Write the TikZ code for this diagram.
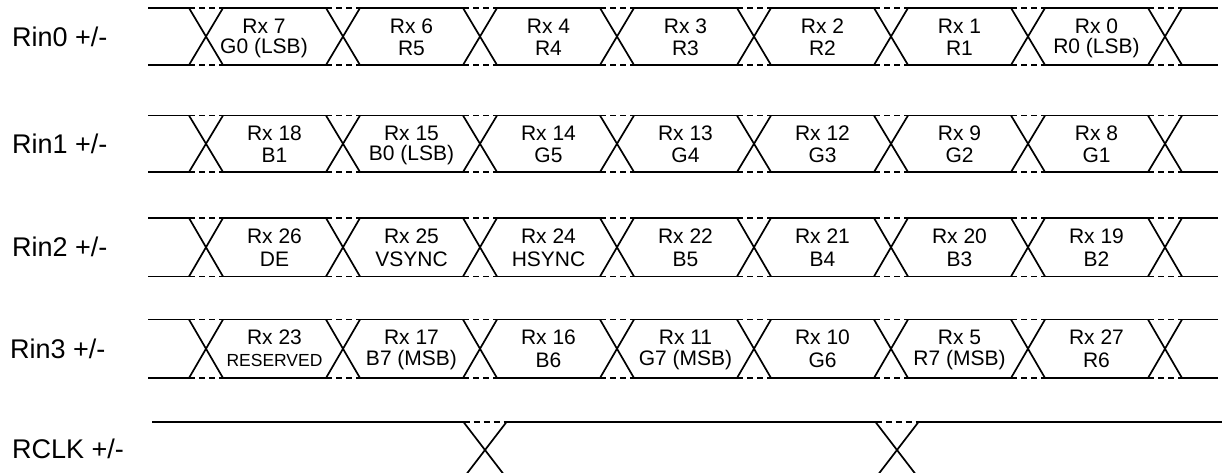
\documentclass[tikz,border=0pt]{standalone}
\usepackage{fontspec}
\setmainfont{Liberation Sans}
\begin{document}
\begin{tikzpicture}[x=1pt,y=-1pt,
  wave/.style={line width=1.7pt},
  gapline/.style={line width=1.7pt,dash pattern=on 6pt off 4pt},
  siglabel/.style={anchor=west,inner sep=0pt,font=\fontsize{27}{29}\selectfont},
  celltext/.style={align=center,inner sep=0pt,font=\fontsize{21}{22.5}\selectfont},
  smalltext/.style={inner sep=0pt,font=\fontsize{17.5}{18}\selectfont}]
\useasboundingbox (0,0) rectangle (1227,472);
\clip (0,0) rectangle (1227,472);
\def\hw{17}
% data rows: index/top/bottom
\foreach \r/\T/\B in {0/8/65, 1/115.5/172, 2/218/276.5, 3/319.5/378}{
  \draw[wave] (148,\T) -- (206-\hw,\T);
  \draw[wave] (148,\B) -- (206-\hw,\B);
  \foreach \k in {0,...,7}{
    \pgfmathsetmacro{\c}{206+137*\k}
    \pgfmathsetmacro{\n}{\k<7 ? 206+137*(\k+1)-\hw : 1218}
    \draw[gapline] (\c-\hw,\T) -- (\c+\hw,\T);
    \draw[gapline] (\c-\hw,\B) -- (\c+\hw,\B);
    \draw[wave] (\c-\hw,\T) -- (\c+\hw,\B);
    \draw[wave] (\c-\hw,\B) -- (\c+\hw,\T);
    \draw[wave] (\c+\hw,\T) -- (\n,\T);
    \draw[wave] (\c+\hw,\B) -- (\n,\B);
  }
}
% signal labels
\node[siglabel] (l0) at (12,36.5) {Rin0 +/-};
\node[siglabel] (l1) at (12,143.75) {Rin1 +/-};
\node[siglabel] (l2) at (12,247.25) {Rin2 +/-};
\node[siglabel] (l3) at (10,348.75) {Rin3 +/-};
\node[siglabel] (l4) at (12,449) {RCLK +/-};
% cell texts
\foreach \j/\a/\b in {0/Rx 7/G0 (LSB),1/Rx 6/R5,2/Rx 4/R4,3/Rx 3/R3,4/Rx 2/R2,5/Rx 1/R1,6/Rx 0/R0 (LSB)}{
  \pgfmathsetmacro{\xx}{\j==0 ? 264 : 274.5+137*\j}
  \node[celltext] (a0\j) at (\xx,26) {\a};
  \node[celltext] (b0\j) at (\xx,48.5) {\b};
}
\foreach \j/\a/\b in {0/Rx 18/B1,1/Rx 15/B0 (LSB),2/Rx 14/G5,3/Rx 13/G4,4/Rx 12/G3,5/Rx 9/G2,6/Rx 8/G1}{
  \node[celltext] (a1\j) at (274.5+137*\j,133) {\a};
  \node[celltext] (b1\j) at (274.5+137*\j,155) {\b};
}
\foreach \j/\a/\b in {0/Rx 26/DE,1/Rx 25/VSYNC,2/Rx 24/HSYNC,3/Rx 22/B5,4/Rx 21/B4,5/Rx 20/B3,6/Rx 19/B2}{
  \node[celltext] (a2\j) at (274.5+137*\j,236.5) {\a};
  \node[celltext] (b2\j) at (274.5+137*\j,259) {\b};
}
\foreach \j/\a/\b in {1/Rx 17/B7 (MSB),2/Rx 16/B6,3/Rx 11/G7 (MSB),4/Rx 10/G6,5/Rx 5/R7 (MSB),6/Rx 27/R6}{
  \node[celltext] (a3\j) at (274.5+137*\j,337.5) {\a};
  \node[celltext] (b3\j) at (274.5+137*\j,360) {\b};
}
\node[celltext] (a30) at (274.5,337.5) {Rx 23};
\node[smalltext] (b30) at (274.5,360) {RESERVED};
% clock
\draw[wave] (152,422) -- (463.5,422);
\draw[gapline] (463.5,422) -- (506.5,422);
\draw[wave] (506.5,422) -- (875.5,422);
\draw[gapline] (875.5,422) -- (918.5,422);
\draw[wave] (918.5,422) -- (1222,422);
\draw[wave] (463.5,422) -- (506.5,478);
\draw[wave] (506.5,422) -- (463.5,478);
\draw[wave] (875.5,422) -- (918.5,478);
\draw[wave] (918.5,422) -- (875.5,478);
\end{tikzpicture}
\end{document}
